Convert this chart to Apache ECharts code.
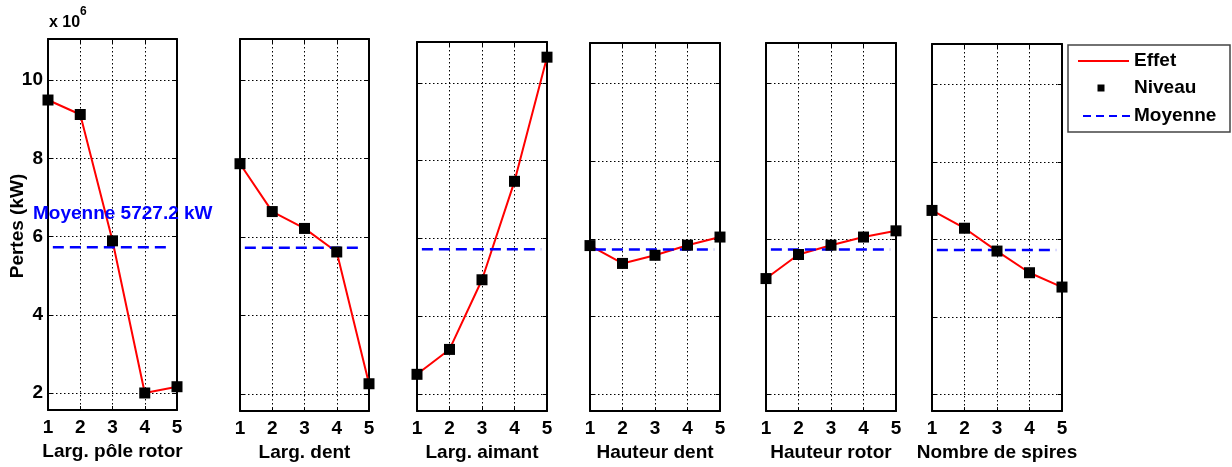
<!DOCTYPE html>
<html>
<head>
<meta charset="utf-8">
<script src="https://cdn.jsdelivr.net/npm/echarts@6/dist/echarts.min.js"></script>
<style>
html,body{margin:0;padding:0;background:#fff;}
#chart{width:1232px;height:467px;}
</style>
</head>
<body>
<div id="chart"></div>
<script>
// ---- data ----
const levels = [1, 2, 3, 4, 5];
const factorNames = ['Larg. pôle rotor', 'Larg. dent', 'Larg. aimant', 'Hauteur dent', 'Hauteur rotor', 'Nombre de spires'];
const effetPoleRotor   = [9.49, 9.12, 5.89, 2.00, 2.16];
const effetDent        = [7.87, 6.65, 6.22, 5.62, 2.26];
const effetAimant      = [2.51, 3.15, 4.94, 7.47, 10.66];
const effetHauteurDent = [5.83, 5.37, 5.58, 5.84, 6.05];
const effetHauteurRot  = [4.98, 5.60, 5.84, 6.05, 6.21];
const effetSpires      = [6.75, 6.29, 5.70, 5.14, 4.77];
const moyenne = 5.7272;           // x 10^6
const moyenneSpan = [1.15, 4.82]; // x extent of the mean line
const yTickLabels = [2, 4, 6, 8, 10];
const yRange = [1.565, 11.05];
const meanText = 'Moyenne 5727.2 kW';

const effets = [effetPoleRotor, effetDent, effetAimant, effetHauteurDent, effetHauteurRot, effetSpires];

// ---- layout ----
const panels = [
  {left: 48,  top: 39, width: 129, height: 371},
  {left: 240, top: 39, width: 129, height: 372},
  {left: 417, top: 42, width: 130, height: 372},
  {left: 590, top: 43, width: 130, height: 372},
  {left: 766, top: 43, width: 130, height: 372},
  {left: 932, top: 44, width: 130, height: 373}
];
const FONT = 'Liberation Sans, Arial, sans-serif';

const grids = [], xAxes = [], yAxes = [], series = [];
panels.forEach((p, i) => {
  grids.push({left: p.left, top: p.top, width: p.width, height: p.height, containLabel: false});
  const tickStyle = {show: true, inside: true, length: 4, lineStyle: {color: '#000', width: 1}};
  const lineStyle = {show: true, onZero: false, lineStyle: {color: '#000', width: 2}};
  // bottom x
  xAxes.push({
    type: 'value', gridIndex: i, min: 1, max: 5, interval: 1, position: 'bottom',
    axisLine: lineStyle, axisTick: tickStyle,
    axisLabel: {show: true, margin: 8, color: '#000', fontFamily: FONT, fontSize: 19, fontWeight: 'bold',
      formatter: v => levels.includes(v) ? String(v) : ''},
    splitLine: {show: true, lineStyle: {color: '#000', width: 1, type: [1.5, 2.5]}},
    name: factorNames[i], nameLocation: 'middle', nameGap: 30,
    nameTextStyle: {color: '#000', fontFamily: FONT, fontSize: 19, fontWeight: 'bold'}
  });
  // top x
  xAxes.push({
    type: 'value', gridIndex: i, min: 1, max: 5, interval: 1, position: 'top',
    axisLine: lineStyle, axisTick: tickStyle, axisLabel: {show: false}, splitLine: {show: false}
  });
  // left y
  yAxes.push({
    type: 'value', gridIndex: i, min: yRange[0], max: yRange[1], splitNumber: 5, position: 'left',
    axisLine: lineStyle, axisTick: tickStyle,
    axisLabel: {show: i === 0, margin: 5, color: '#000', fontFamily: FONT, fontSize: 19, fontWeight: 'bold',
      formatter: v => { const r = Math.round(v); return (Math.abs(v - r) < 1e-6 && yTickLabels.includes(r)) ? String(r) : ''; }},
    splitLine: {show: true, lineStyle: {color: '#000', width: 1, type: [1.5, 2.5]}}
  });
  // right y
  yAxes.push({
    type: 'value', gridIndex: i, min: yRange[0], max: yRange[1], splitNumber: 5, position: 'right',
    axisLine: lineStyle, axisTick: tickStyle, axisLabel: {show: false}, splitLine: {show: false}
  });

  const xi = i * 2, yi = i * 2;
  const pts = levels.map((l, k) => [l, effets[i][k]]);
  series.push({
    name: 'Effet', type: 'line', xAxisIndex: xi, yAxisIndex: yi, data: pts,
    symbol: 'none', lineStyle: {color: '#ff0000', width: 2}, z: 2, animation: false, silent: true
  });
  series.push({
    name: 'Moyenne', type: 'line', xAxisIndex: xi, yAxisIndex: yi,
    data: [[moyenneSpan[0], moyenne], [moyenneSpan[1], moyenne]],
    symbol: 'none', lineStyle: {color: '#0000ff', width: 2.5, type: [11, 6]}, z: 3, animation: false, silent: true
  });
  series.push({
    name: 'Niveau', type: 'scatter', xAxisIndex: xi, yAxisIndex: yi, data: pts,
    symbol: 'rect', symbolSize: 11, itemStyle: {color: '#000', opacity: 1}, z: 4, animation: false, silent: true
  });
});

// legend drawn as graphic (box, samples, labels)
const LX = 1068, LY = 45, LW = 162, LH = 87;
const legendRows = [61, 88, 116];
const graphic = [
  {type: 'text', left: 49, top: 15, style: {text: 'x 10', font: 'bold 16px ' + FONT, fill: '#000'}},
  {type: 'text', left: 80, top: 6, style: {text: '6', font: 'bold 12px ' + FONT, fill: '#000'}},
  {type: 'text', x: 17.5, y: 226, rotation: Math.PI / 2,
    style: {text: 'Pertes (kW)', font: 'bold 19px ' + FONT, fill: '#000', align: 'center', verticalAlign: 'middle'}},
  {type: 'text', x: 33, y: 214,
    style: {text: meanText, font: 'bold 19px ' + FONT, fill: '#0000ff', align: 'left', verticalAlign: 'middle'}, z: 10},
  {type: 'rect', shape: {x: LX, y: LY, width: LW, height: LH}, style: {fill: '#fff', stroke: '#444', lineWidth: 1.5}, z: 10},
  {type: 'line', shape: {x1: 1078, y1: legendRows[0], x2: 1129, y2: legendRows[0]}, style: {stroke: '#ff0000', lineWidth: 2}, z: 11},
  {type: 'rect', shape: {x: 1097.5, y: legendRows[1] - 3.5, width: 7, height: 7}, style: {fill: '#000'}, z: 11},
  {type: 'line', shape: {x1: 1083, y1: legendRows[2], x2: 1130, y2: legendRows[2]}, style: {stroke: '#0000ff', lineWidth: 2, lineDash: [8, 5]}, z: 11},
  {type: 'text', x: 1134, y: legendRows[0], style: {text: 'Effet', font: 'bold 19px ' + FONT, fill: '#000', verticalAlign: 'middle'}, z: 11},
  {type: 'text', x: 1134, y: legendRows[1], style: {text: 'Niveau', font: 'bold 19px ' + FONT, fill: '#000', verticalAlign: 'middle'}, z: 11},
  {type: 'text', x: 1134, y: legendRows[2], style: {text: 'Moyenne', font: 'bold 19px ' + FONT, fill: '#000', verticalAlign: 'middle'}, z: 11}
];

const chart = echarts.init(document.getElementById('chart'), null, {renderer: 'canvas'});
chart.setOption({
  backgroundColor: '#fff',
  animation: false,
  grid: grids,
  xAxis: xAxes,
  yAxis: yAxes,
  series: series,
  graphic: graphic
});
</script>
</body>
</html>
